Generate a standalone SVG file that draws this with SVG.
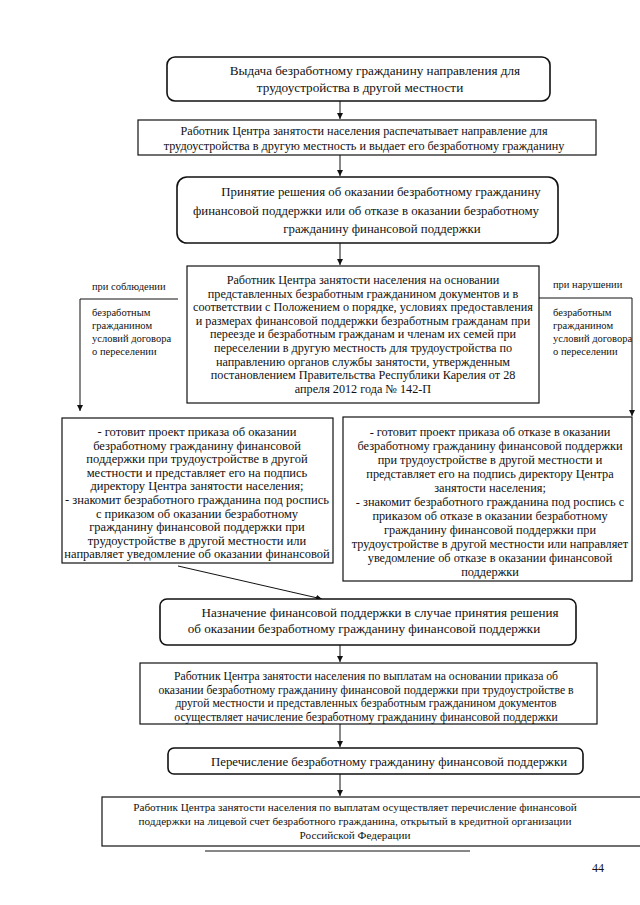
<svg xmlns="http://www.w3.org/2000/svg" width="640" height="905" viewBox="0 0 640 905">
<style>
text{font-family:"Liberation Serif","Times New Roman",serif;fill:#111}
.c{text-anchor:middle}
.box{fill:#fff;stroke:#111;stroke-width:1.2}
.rbox{fill:#fff;stroke:#111;stroke-width:1.6}
.ln{fill:none;stroke:#111;stroke-width:1}
</style>
<defs>
<marker id="ah" markerWidth="6" markerHeight="8" refX="6" refY="4" orient="auto" markerUnits="userSpaceOnUse">
<path d="M0,1 L6,4 L0,7 Z" fill="#111"/>
</marker>
</defs>
<rect width="640" height="905" fill="#fff"/>
<g id="connectors">
<line class="ln" x1="340" y1="101" x2="340" y2="119" marker-end="url(#ah)"/>
<line class="ln" x1="340" y1="155" x2="340" y2="176" marker-end="url(#ah)"/>
<line class="ln" x1="340" y1="243" x2="340" y2="265" marker-end="url(#ah)"/>
<line class="ln" x1="178" y1="299" x2="80" y2="299"/>
<line class="ln" x1="80" y1="299" x2="80" y2="411" marker-end="url(#ah)"/>
<line class="ln" x1="537" y1="298" x2="632" y2="298"/>
<line class="ln" x1="632" y1="298" x2="632" y2="416" marker-end="url(#ah)"/>
<line class="ln" x1="178" y1="566" x2="322" y2="599" marker-end="url(#ah)"/>
<line class="ln" x1="340" y1="645" x2="340" y2="662" marker-end="url(#ah)"/>
<line class="ln" x1="340" y1="724" x2="340" y2="747" marker-end="url(#ah)"/>
<line class="ln" x1="340" y1="774" x2="340" y2="796" marker-end="url(#ah)"/>
</g>
<g id="n1" font-size="13.2">
<rect class="rbox" x="167" y="57" width="383" height="44" rx="8"/>
<text class="c" x="375" y="75">Выдача безработному гражданину направления для</text>
<text class="c" x="360" y="92">трудоустройства в другой местности</text>
</g>
<g id="n2" font-size="12.2">
<rect class="box" x="138" y="120" width="458" height="35"/>
<text class="c" x="364" y="135">Работник Центра занятости населения распечатывает направление для</text>
<text class="c" x="364" y="150">трудоустройства в другую местность и выдает его безработному гражданину</text>
</g>
<g id="n3" font-size="12.8">
<rect class="rbox" x="177" y="177" width="381" height="66" rx="10"/>
<text class="c" x="381" y="196">Принятие решения об оказании безработному гражданину</text>
<text class="c" x="366" y="215">финансовой поддержки или об отказе в оказании безработному</text>
<text class="c" x="382" y="233">гражданину финансовой поддержки</text>
</g>
<g id="n4" font-size="12.2">
<rect class="box" x="187" y="266" width="352" height="137"/>
<text class="c" x="363" y="284">Работник Центра занятости населения на основании</text>
<text class="c" x="363" y="297.6">представленных безработным гражданином документов и в</text>
<text class="c" x="363" y="311.2">соответствии с Положением о порядке, условиях предоставления</text>
<text class="c" x="363" y="324.8">и размерах финансовой поддержки безработным гражданам при</text>
<text class="c" x="363" y="338.4">переезде и безработным гражданам и членам их семей при</text>
<text class="c" x="363" y="352">переселении в другую местность для трудоустройства по</text>
<text class="c" x="363" y="365.6">направлению органов службы занятости, утвержденным</text>
<text class="c" x="363" y="379.2">постановлением Правительства Республики Карелия от 28</text>
<text class="c" x="363" y="392.8">апреля 2012 года № 142-П</text>
</g>
<g id="cond-left" font-size="10.5">
<text x="92" y="290">при соблюдении</text>
<text x="92" y="316">безработным</text>
<text x="92" y="329">гражданином</text>
<text x="92" y="342">условий договора</text>
<text x="92" y="355">о переселении</text>
</g>
<g id="cond-right" font-size="10.5">
<text x="553" y="288">при нарушении</text>
<text x="553" y="316">безработным</text>
<text x="553" y="329">гражданином</text>
<text x="553" y="342">условий  договора</text>
<text x="553" y="355">о переселении</text>
</g>
<g id="n5" font-size="12.5">
<rect class="box" x="62" y="418" width="271" height="145"/>
<text class="c" x="197" y="436">- готовит проект приказа об оказании</text>
<text class="c" x="197" y="449.6">безработному гражданину финансовой</text>
<text class="c" x="197" y="463.2">поддержки при трудоустройстве в другой</text>
<text class="c" x="197" y="476.8">местности и представляет его на подпись</text>
<text class="c" x="197" y="490.4">директору Центра занятости населения;</text>
<text class="c" x="197" y="504">- знакомит безработного гражданина под роспись</text>
<text class="c" x="197" y="517.6">с приказом об оказании безработному</text>
<text class="c" x="197" y="531.2">гражданину финансовой поддержки при</text>
<text class="c" x="197" y="544.8">трудоустройстве в другой местности или</text>
<text class="c" x="197" y="558.4">направляет уведомление об оказании финансовой</text>
</g>
<g id="n6" font-size="12.3">
<rect class="box" x="343" y="417" width="289" height="164"/>
<text class="c" x="490" y="436">- готовит проект приказа об отказе в  оказании</text>
<text class="c" x="490" y="450">безработному гражданину финансовой поддержки</text>
<text class="c" x="490" y="464">при трудоустройстве в другой местности и</text>
<text class="c" x="490" y="478">представляет его на подпись директору Центра</text>
<text class="c" x="490" y="492">занятости населения;</text>
<text class="c" x="490" y="506">- знакомит безработного гражданина под роспись с</text>
<text class="c" x="490" y="520">приказом об отказе в  оказании безработному</text>
<text class="c" x="490" y="534">гражданину финансовой поддержки при</text>
<text class="c" x="490" y="548">трудоустройстве в другой местности или направляет</text>
<text class="c" x="490" y="562">уведомление об отказе в оказании финансовой</text>
<text class="c" x="490" y="576">поддержки</text>
</g>
<g id="n7" font-size="13.1">
<rect class="rbox" x="160" y="599" width="416" height="46" rx="7"/>
<text class="c" x="380" y="617">Назначение финансовой поддержки в случае принятия решения</text>
<text class="c" x="364" y="633">об оказании безработному гражданину финансовой поддержки</text>
</g>
<g id="n8" font-size="11.7">
<rect class="box" x="140" y="663" width="457" height="61"/>
<text class="c" x="366" y="680">Работник Центра занятости населения по выплатам на основании приказа об</text>
<text class="c" x="366" y="694">оказании безработному гражданину финансовой поддержки при трудоустройстве в</text>
<text class="c" x="366" y="707">другой местности и представленных безработным гражданином документов</text>
<text class="c" x="366" y="721">осуществляет начисление безработному гражданину финансовой поддержки</text>
</g>
<g id="n9" font-size="12.8">
<rect class="rbox" x="168" y="748" width="415" height="26" rx="6"/>
<text x="211" y="766">Перечисление безработному гражданину финансовой поддержки</text>
</g>
<g id="n10" font-size="11.2">
<rect class="box" x="102" y="797" width="545" height="49"/>
<text class="c" x="355" y="811">Работник Центра занятости населения по выплатам осуществляет перечисление финансовой</text>
<text class="c" x="355" y="825">поддержки на лицевой счет безработного гражданина, открытый в кредитной организации</text>
<text class="c" x="355" y="839">Российской Федерации</text>
</g>
<line class="ln" x1="205" y1="851" x2="470" y2="851"/>
<text x="592" y="872" font-size="12">44</text>
</svg>
